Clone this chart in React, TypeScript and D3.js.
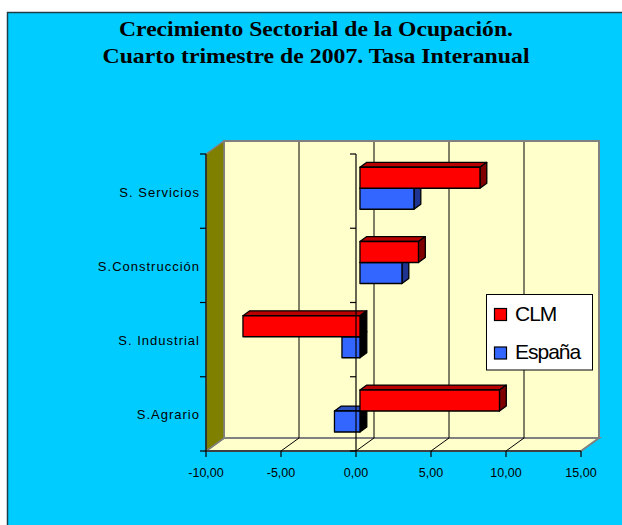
import React from "react";
import * as d3 from "d3";

// categories top to bottom
const categories = ["S. Servicios", "S.Construcción", "S. Industrial", "S.Agrario"];
const seriesNames = ["CLM", "España"];
const clmValues = [8.0, 3.9, -7.8, 9.3];
const espValues = [3.6, 2.8, -1.2, -1.7];
const xTicks = [-10, -5, 0, 5, 10, 15];
const xTickLabels = ["-10,00", "-5,00", "0,00", "5,00", "10,00", "15,00"];
const titleLines = [
  "Crecimiento Sectorial de la Ocupación.",
  "Cuarto trimestre de 2007. Tasa Interanual",
];

const W = 622;
const H = 525;
// 3d box: front plane and depth offset
const DX = 18;
const DY = -13;
const F0 = 0.22; // bar front depth
const F1 = 0.6; // bar back depth

const colors = {
  CLM: { front: "#FF0000", top: "#B80000", side: "#800000" },
  España: { front: "#3366FF", top: "#2A4FC0", side: "#1F3490" },
};

export default function App() {
  const x = d3.scaleLinear().domain([-10, 15]).range([206, 581]);
  const y = d3.scaleBand().domain(categories).range([154, 451]);
  const sub = d3
    .scaleBand()
    .domain(seriesNames)
    .range([0, y.bandwidth()])
    .paddingInner(0)
    .paddingOuter(0.768);

  const x0 = x.range()[0];
  const x1 = x.range()[1];
  const yTop = y.range()[0];
  const yBot = y.range()[1];

  const bdx = (F1 - F0) * DX;
  const bdy = (F1 - F0) * DY;

  const bar = (cat, s, v) => {
    const xa = x(0) + F0 * DX;
    const xb = x(v) + F0 * DX;
    const l = Math.min(xa, xb);
    const r = Math.max(xa, xb);
    const t = y(cat) + sub(s) + F0 * DY;
    const h = sub.bandwidth();
    const c = colors[s];
    const pts = (arr) => arr.map((p) => p.join(",")).join(" ");
    return (
      <g key={cat + s} stroke="#000" strokeWidth={1.3} strokeLinejoin="round">
        <polygon
          points={pts([[l, t], [l + bdx, t + bdy], [r + bdx, t + bdy], [r, t]])}
          fill={c.top}
        />
        <polygon
          points={pts([[r, t], [r + bdx, t + bdy], [r + bdx, t + bdy + h], [r, t + h]])}
          fill={v >= 0 ? c.side : "#000"}
        />
        <rect x={l} y={t} width={r - l} height={h} fill={c.front} />
      </g>
    );
  };

  const gridTicks = xTicks.slice(1, -1);
  const boundaries = categories.map((c) => y(c)).concat([yBot]);

  return (
    <svg
      width={W}
      height={H}
      style={{ position: "absolute", left: 0, top: 0 }}
      fontFamily="'Liberation Sans', Arial, sans-serif"
    >
      <rect x={0} y={0} width={W} height={H} fill="#fff" />
      <rect x={7.5} y={12.5} width={W} height={H} fill="#00CCFF" stroke="#1f3f48" strokeWidth={1.5} />

      {titleLines.map((t, i) => (
        <text
          key={i}
          x={316}
          y={36 + i * 27}
          textAnchor="middle"
          fontFamily="'Liberation Serif', 'Times New Roman', serif"
          fontWeight="bold"
          fontSize={22}
          textLength={i === 0 ? 394 : 427}
          lengthAdjust="spacingAndGlyphs"
        >
          {t}
        </text>
      ))}

      {/* back wall */}
      <rect
        x={x0 + DX}
        y={yTop + DY}
        width={x1 - x0}
        height={yBot - yTop}
        fill="#FFFFCC"
        stroke="#808080"
        strokeWidth={2}
      />
      {/* floor */}
      <polygon
        points={`${x0},${yBot} ${x0 + DX},${yBot + DY} ${x1 + DX},${yBot + DY} ${x1},${yBot}`}
        fill="#FFFFCC"
        stroke="#808080"
        strokeWidth={2}
      />
      {/* left wall */}
      <polygon
        points={`${x0},${yTop} ${x0 + DX},${yTop + DY} ${x0 + DX},${yBot + DY} ${x0},${yBot}`}
        fill="#808000"
        stroke="#808080"
        strokeWidth={1.5}
      />

      {/* gridlines on back wall and floor */}
      {gridTicks.map((t) => (
        <g key={t} stroke="#000" strokeWidth={1}>
          <line x1={x(t) + DX} x2={x(t) + DX} y1={yTop + DY + 1} y2={yBot + DY} />
          <line x1={x(t)} x2={x(t) + DX} y1={yBot} y2={yBot + DY} />
        </g>
      ))}

      {/* left edge axis */}
      <g stroke="#000" strokeWidth={1.2}>
        <line x1={x0} x2={x0} y1={yTop} y2={yBot} />
        {boundaries.map((b) => (
          <line key={b} x1={x0 - 6} x2={x0} y1={b} y2={b} />
        ))}
      </g>

      {/* value axis */}
      <g stroke="#000" strokeWidth={1.2}>
        <line x1={x0} x2={x1} y1={yBot} y2={yBot} />
        {xTicks.map((t) => (
          <line key={t} x1={x(t)} x2={x(t)} y1={yBot} y2={yBot + 6} />
        ))}
      </g>
      {xTicks.map((t, i) => (
        <text key={t} x={x(t)} y={477} textAnchor="middle" fontSize={12.5}>
          {xTickLabels[i]}
        </text>
      ))}

      {categories.map((c) => (
        <text
          key={c}
          x={200}
          y={y(c) + y.bandwidth() / 2 + 5.5}
          textAnchor="end"
          fontSize={13}
          letterSpacing={1}
        >
          {c}
        </text>
      ))}

      {/* bars: España under CLM */}
      {categories.map((c, i) => bar(c, "España", espValues[i]))}
      {categories.map((c, i) => bar(c, "CLM", clmValues[i]))}

      {/* category axis at zero, drawn over the bars */}
      <g stroke="#000" strokeWidth={1.2}>
        <line x1={x(0)} x2={x(0)} y1={yTop} y2={yBot} />
        {boundaries.map((b) => (
          <line key={b} x1={x(0) - 6} x2={x(0)} y1={b} y2={b} />
        ))}
      </g>

      {/* legend */}
      <rect x={486.5} y={294.5} width={106} height={75.5} fill="#fff" stroke="#000" strokeWidth={1} />
      {seriesNames.map((s, i) => (
        <g key={s}>
          <rect
            x={494.5}
            y={308.5 + i * 38.5}
            width={12}
            height={12}
            fill={colors[s].front}
            stroke="#000"
            strokeWidth={1.2}
          />
          <text x={515} y={320.5 + i * 38.5} fontSize={21} letterSpacing={-1}>
            {s}
          </text>
        </g>
      ))}
    </svg>
  );
}
